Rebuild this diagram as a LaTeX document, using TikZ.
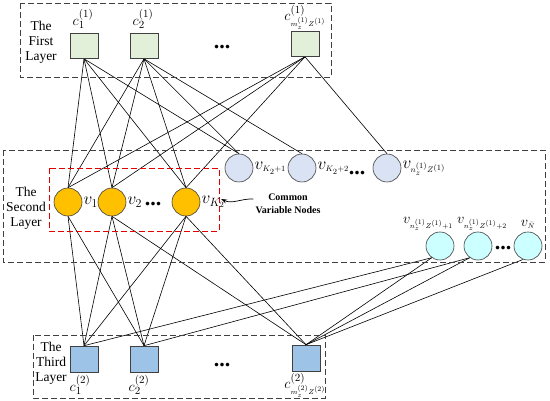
\documentclass[tikz,border=0pt]{standalone}
\usepackage{fontspec}
\setmainfont{Liberation Serif}
\usetikzlibrary{arrows.meta,backgrounds}
\definecolor{lgreen}{HTML}{E2F0D9}
\definecolor{vorange}{HTML}{FFC000}
\definecolor{lblue}{HTML}{DAE3F3}
\definecolor{lcyan}{HTML}{CCFFFF}
\definecolor{sblue}{HTML}{9DC3E6}
\definecolor{bord}{HTML}{404040}
\newcommand{\tinysub}[1]{{\scriptscriptstyle #1}}
\begin{document}
\begin{tikzpicture}[x=1pt,y=-1pt,
  sqtop/.style={draw=bord, fill=lgreen, minimum width=28pt, minimum height=25pt, inner sep=0pt, line width=0.6pt},
  sqbot/.style={draw=bord, fill=sblue, minimum width=28pt, minimum height=26pt, inner sep=0pt, line width=0.6pt},
  vcirc/.style={circle, draw=bord, line width=0.6pt, minimum size=28pt, inner sep=0pt},
  vor/.style={vcirc, fill=vorange},
  vbl/.style={vcirc, fill=lblue},
  vcy/.style={vcirc, fill=lcyan},
  layerbox/.style={draw=black!75, dash pattern=on 6pt off 3pt, line width=0.7pt},
  redbox/.style={draw=red!90!black, dash pattern=on 6pt off 3pt, line width=0.9pt},
  layertxt/.style={align=center, font=\fontsize{13.5}{15}\selectfont},
  clab/.style={font=\fontsize{15}{17}\selectfont, inner sep=1pt},
  vlab/.style={font=\fontsize{17}{19}\selectfont, inner sep=1pt, anchor=west},
  wlab/.style={font=\fontsize{15}{17}\selectfont, inner sep=0pt},
  dots/.style={font=\fontsize{22}{22}\selectfont\bfseries, inner sep=0pt, text height=3.5pt, text depth=0pt},
  edge/.style={line width=0.6pt, black}]
\useasboundingbox (0,0) rectangle (550,401);

% layer boxes
\draw[layerbox] (20,3) rectangle (331,77);
\draw[layerbox] (3,150) rectangle (545,262);
\draw[layerbox] (33,335) rectangle (325,398);
\draw[redbox] (49,168) rectangle (219,231);

% first layer
\node[layertxt] (t1) at (41,42) {The\\First\\Layer};
\node[sqtop] (c1) at (84,46) {};
\node[sqtop] (c2) at (144,46) {};
\node[sqtop] (cm) at (305,44) {};
\node[clab] (lc1) at (83,19) {$c_1^{(1)}$};
\node[clab] (lc2) at (143,19) {$c_2^{(1)}$};
\node[clab] (lcm) at (305,17) {$c_{\tinysub{m_z^{(1)}Z^{(1)}}}^{(1)}$};
\node[dots] (d1dots) at (222,47) {...};

% second layer
\node[layertxt] (t2) at (26,208) {The\\Second\\Layer};
\node[vor] (v1) at (68,202) {};
\node[vor] (v2) at (112,202) {};
\node[vor] (vK) at (186,202) {};
\node[vlab] (lv1) at (v1.east) {$v_1$};
\node[vlab] (lv2) at (v2.east) {$v_2$};
\node[vlab] (lvK) at (vK.east) {$v_{K_2}$};
\node[dots] (d2dots) at (153,204) {...};

\node[vbl] (va) at (239,168) {};
\node[vbl] (vb) at (302,168) {};
\node[vbl] (vn) at (387,168) {};
\node[vlab] (lva) at (va.east) {$v_{\tinysub{K_2+1}}$};
\node[vlab] (lvb) at (vb.east) {$v_{\tinysub{K_2+2}}$};
\node[vlab] (lvn) at (vn.east) {$v_{\tinysub{n_z^{(1)}Z^{(1)}}}$};
\node[dots] (d3dots) at (357,173) {...};

\node[align=center, font=\bfseries\fontsize{10}{12.5}\selectfont, inner sep=1pt] (cvn) at (288,204) {Common\\Variable Nodes};
\coordinate (tip) at (221,199);
\draw[line width=0.7pt, -{Stealth[length=6pt,width=4pt]}] ([xshift=-1pt,yshift=5pt]cvn.west) to[out=178, in=-25] (tip);

\node[vcy] (w1) at (440,246) {};
\node[vcy] (w2) at (478,246) {};
\node[vcy] (wN) at (528,246) {};
\node[wlab] (lw1) at (428,224) {$v_{\tinysub{n_z^{(1)}Z^{(1)}+1}}$};
\node[wlab] (lw2) at (482,224) {$v_{\tinysub{n_z^{(1)}Z^{(1)}+2}}$};
\node[wlab] (lwN) at (528,224) {$v_{\tinysub{\bar{N}}}$};
\node[dots] (d4dots) at (503,248) {...};

% third layer
\node[layertxt] (t3) at (51,363) {The\\Third\\Layer};
\node[sqbot] (e1) at (84,359) {};
\node[sqbot] (e2) at (144,359) {};
\node[sqbot] (em) at (306,358) {};
\node[clab] (le1) at (80,385) {$c_1^{(2)}$};
\node[clab] (le2) at (139,385) {$c_2^{(2)}$};
\node[clab] (lem) at (305,385) {$c_{\tinysub{m_z^{(2)}Z^{(2)}}}^{(2)}$};
\node[dots] (d5dots) at (222,365) {...};

\begin{scope}[on background layer]
\foreach \t in {v1,v2,vK,va} \draw[edge] (c1.south) -- (\t.north);
\foreach \t in {v1,v2,vK,va,vb} \draw[edge] (c2.south) -- (\t.north);
\foreach \t in {v1,v2,vK,vn} \draw[edge] (cm.south) -- (\t.north);
\foreach \t in {e1,e2} \draw[edge] (v1.south) -- (\t.north);
\foreach \t in {e1,e2,em} \draw[edge] (v2.south) -- (\t.north);
\foreach \t in {e1,e2,em} \draw[edge] (vK.south) -- (\t.north);
\foreach \t in {e1,em} \draw[edge] (w1.235) -- (\t.north);
\foreach \t in {e2,em} \draw[edge] (w2.235) -- (\t.north);
\draw[edge] (wN.250) -- (em.north);
\end{scope}
\end{tikzpicture}
\end{document}
